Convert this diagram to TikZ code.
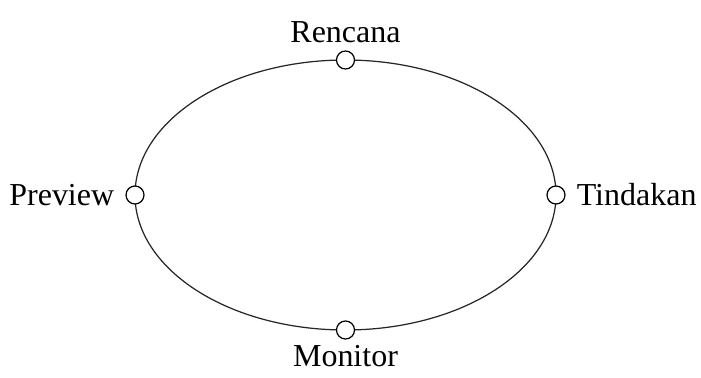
\documentclass[tikz,border=0pt]{standalone}
\usepackage{fontspec}
\setmainfont{Liberation Serif}
\usetikzlibrary{positioning}

\begin{document}
\begin{tikzpicture}[
    every node/.style={font=\fontsize{18.2}{21}\selectfont},
    dot/.style={draw, circle, fill=white, inner sep=0pt, minimum size=0.36cm, line width=0.7pt},
    loop/.style={line width=0.7pt, black!85}
]
\useasboundingbox (0,0) rectangle (14.02,7.56);
\coordinate (center) at (6.91,3.66);
\draw[loop] (center) ellipse [x radius=4.21cm, y radius=2.70cm];
\node[dot] (rencana) at (6.91,6.36) {};
\node[dot] (tindakan) at (11.12,3.66) {};
\node[dot] (monitor) at (6.91,0.96) {};
\node[dot] (preview) at (2.70,3.66) {};
\node[above=0.03cm of rencana] (rencanatext) {Rencana};
\node[right=0.1cm of tindakan] (tindakantext) {Tindakan};
\node[below=0.0cm of monitor] (monitortext) {Monitor};
\node[left=0.1cm of preview] (previewtext) {Preview};
\end{tikzpicture}
\end{document}
